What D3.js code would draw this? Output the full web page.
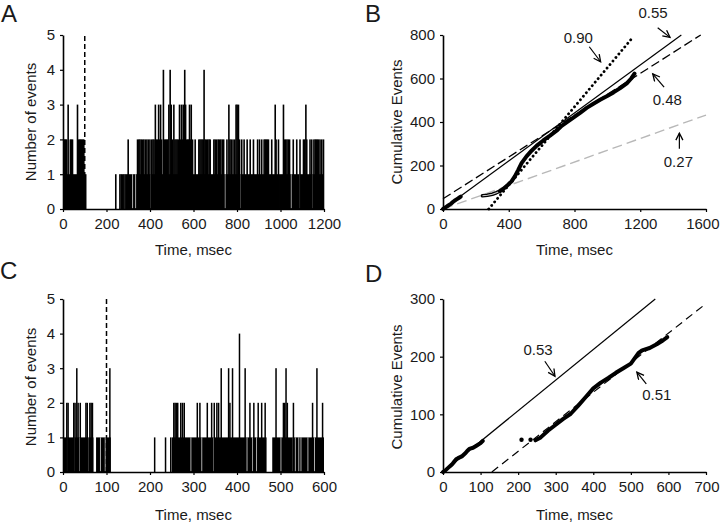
<!DOCTYPE html>
<html><head><meta charset="utf-8">
<script src="https://cdn.jsdelivr.net/npm/d3@7"></script>
<style>
body{margin:0;background:#fff}
svg{display:block}
text{font-family:"Liberation Sans",Arial,Helvetica,sans-serif;fill:#1a1a1a}
</style>
</head><body>
<svg id="chart" width="720" height="522"></svg>
<script>
// ---------------- DATA ----------------
const panelLetters = ["A","B","C","D"];
const xLabel = "Time, msec";
const yLabelHist = "Number of events";
const yLabelCum = "Cumulative Events";

const ticksAx = [0,200,400,600,800,1000,1200];
const ticksAy = [0,1,2,3,4,5];
const ticksBx = [0,400,800,1200,1600];
const ticksBy = [0,200,400,600,800];
const ticksCx = [0,100,200,300,400,500,600];
const ticksCy = [0,1,2,3,4,5];
const ticksDx = [0,100,200,300,400,500,600,700];
const ticksDy = [0,100,200,300];

const stimTime = 100; // dashed marker (msec)

// Panel A histogram (2 ms bins): ranges with 1 event, single bars, bins with >=2 events, empty bins
const fillA = [[0,108],[300,1200]];
const singlesA = [239,258,264,270,276,282,288,294];
const spikesA = [[1,2],[5,2],[9,2],[13,2],[20,3],[30,2],[35,2],[40,2],[63,3],[68,2],[73,2],[77,2],[82,2],[87,2],[92,2],
 [296,2],[339,2],[345,2],[350,2],[356,2],[362,2],[368,2],[375,2],[382,2],[389,2],[396,2],
 [404,2],[410,2],[415,2],[421,3],[426,2],[431,2],[436,3],[441,2],[445,3],[450,2],[458,4],[463,2],[468,2],[473,2],[478,2],
 [483,3],[489,4],[494,3],[499,2],[506,3],[511,2],[516,2],[521,2],[526,2],[532,3],[537,2],[541,3],[545,2],[549,3],[556,4],
 [560,3],[565,2],[570,2],[574,2],[578,3],[582,2],[586,3],[592,2],
 [604,2],[621,2],[626,2],[631,2],[636,2],[641,2],[645,4],[650,2],[656,2],[662,2],[668,2],[673,2],
 [690,2],[696,2],[703,2],[710,2],[716,2],[722,2],[729,2],[735,2],
 [750,2],[759,3],[764,2],[770,2],[778,2],[786,2],[792,3],[797,3],[803,3],[808,2],[818,2],[829,2],[843,2],[857,2],[872,2],
 [891,2],[900,2],[910,2],[921,2],[926,2],[931,2],[936,2],[941,2],[956,2],[972,3],[976,2],[987,2],[1010,3],[1015,2],[1020,2],
 [1026,2],[1032,2],[1038,2],[1055,2],[1071,2],[1086,2],[1102,2],[1107,2],[1113,3],[1117,2],[1132,2],[1140,2],[1150,2],
 [1156,2],[1161,2],[1166,2],[1171,2],[1178,2],[1186,2],[1194,2]];
const gapsA = [318,332,400,743,816,860,989,1047,1086,1143];

// Panel C histogram
const fillC = [[0,70],[76,110],[250,468],[481,600]];
const singlesC = [209,234,246];
const spikesC = [[7,2],[10,2],[23,2],[26,2],[30,3],[33,2],[38,2],[51,2],[54,2],[60,2],[63,2],[66,2],[106,3],
 [253,2],[256,2],[259,2],[262,2],[269,2],[273,2],[277,2],[307,2],[313,2],[330,2],[340,2],[346,2],[352,2],[356,2],
 [362,3],[379,3],[382,2],[388,3],[404,4],[417,3],[428,2],[437,2],[447,2],[455,2],[463,2],[488,3],[505,2],[508,2],
 [511,3],[514,2],[528,2],[572,2],[582,3],[595,2]];
const gapsC = [8,25,37,56,85,96,293,318,345,422,435,444,500,528,533,541,546,562,577];

// Panel B cumulative events (segments)
const cumB1 = [[0,0],[10,5],[20,10],[30,15],[40,20],[50,25],[60,32],[70,38],[80,43],[90,48],[100,53],[108,57]];
const cumB2 = [[240,61],[270,63],[300,68],[325,75],[346,82]];
const cumB3 = [[346,82],[366,92],[396,112],[417,127],[437,150],[458,180],[478,211],[508,242],[539,268],[569,290],
 [610,315],[651,337],[691,360],[722,382],[752,398],[793,420],[834,442],[874,465],[915,484],[956,502],[996,518],
 [1037,536],[1078,556],[1118,578],[1145,600],[1165,622]];
// Panel B fitted lines (endpoints)
const fitB055 = [[0,0],[1450,800]];
const fitB048 = [[0,47],[1568,800]];
const fitB090 = [[278,0],[1150,785]];
const fitB027 = [[0,0],[1600,432]];

// Panel D cumulative events
const cumD1 = [[0,0],[5,2],[10,5],[15,8],[20,11],[25,14],[30,18],[35,22],[40,24],[50,27],[60,33],[65,37],[70,40],[80,42],[90,46],[100,50],[106,54]];
const cumDdots = [[209,56],[233,56]];
const cumD2 = [[246,55],[260,60],[280,72],[300,82],[320,92],[340,101],[360,115],[380,130],[400,145],[420,155],[440,163],
 [460,172],[480,180],[500,188],[510,197],[520,206],[530,211],[550,215],[570,222],[585,228],[597,234]];
const fitD053 = [[0,0],[565,300]];
const fitD051 = [[130,0],[700,292]];

// Annotations: [label, textT, textN, arrowFromT, arrowFromN, arrowToT, arrowToN]
const notesB = [["0.55",1278,905,1306,833,1381,789],["0.90",823,789,890,746,959,677],
                ["0.48",1365,505,1345,560,1276,621],["0.27",1432,216,1438,277,1438,349]];
const notesD = [["0.53",253,213,271,192,298,166],["0.51",569,134,541,153,516,173]];

// ---------------- DRAW ----------------
const svg = d3.select("#chart");
const defs = svg.append("defs");
defs.append("marker").attr("id","arr").attr("markerUnits","userSpaceOnUse")
  .attr("markerWidth",10).attr("markerHeight",10).attr("refX",8).attr("refY",4).attr("orient","auto")
  .append("path").attr("d","M1,0.5 L8,4 L1,7.5").attr("fill","none").attr("stroke","#000").attr("stroke-width",1.3);

const xA = d3.scaleLinear().domain([0,1200]).range([63,324]);
const yA = d3.scaleLinear().domain([0,5]).range([209,35]);
const xB = d3.scaleLinear().domain([0,1600]).range([443,706]);
const yB = d3.scaleLinear().domain([0,800]).range([209,35]);
const xC = d3.scaleLinear().domain([0,600]).range([63,324]);
const yC = d3.scaleLinear().domain([0,5]).range([472,299]);
const xD = d3.scaleLinear().domain([0,700]).range([443,706]);
const yD = d3.scaleLinear().domain([0,300]).range([472,299]);

function axes(x, y, xt, yt, ylab, letter, letterPos, ylabCenter, xlabY){
  const g = svg.append("g");
  const ax = g.append("g").attr("transform",`translate(0,${y.range()[0]})`)
    .call(d3.axisBottom(x).tickValues(xt).tickSize(3).tickSizeOuter(0).tickPadding(6).tickFormat(d3.format("d")));
  const ay = g.append("g").attr("transform",`translate(${x.range()[0]},0)`)
    .call(d3.axisLeft(y).tickValues(yt).tickSize(3).tickSizeOuter(0).tickPadding(5).tickFormat(d3.format("d")));
  [ax,ay].forEach(a=>{
    a.select(".domain").attr("stroke","#000").attr("stroke-width",1.6);
    a.selectAll(".tick line").attr("stroke","#000").attr("stroke-width",1.2);
    a.selectAll("text").attr("font-size","15px").attr("fill","#1a1a1a").style("font-family",'"Liberation Sans",Arial,sans-serif');
  });
  // keep the last x tick label inside the window
  ax.selectAll(".tick text").filter(d=>x(d)+17>719).attr("text-anchor","end").attr("x",719 - x(xt[xt.length-1]));
  g.append("text").attr("x",(x.range()[0]+x.range()[1])/2).attr("y",xlabY).attr("text-anchor","middle")
    .attr("font-size","15px").text(xLabel);
  g.append("text").attr("transform",`translate(${ylabCenter[0]},${ylabCenter[1]}) rotate(-90)`)
    .attr("text-anchor","middle").attr("dy","0.36em").attr("font-size","15px").text(ylab);
  g.append("text").attr("x",letterPos[0]).attr("y",letterPos[1]).attr("font-size","24px").text(letter);
}

function hist(x, y, fills, singles, spikes, gaps, bw){
  const g = svg.append("g");
  g.selectAll(".f").data(fills).join("rect").attr("x",d=>x(d[0])).attr("width",d=>x(d[1])-x(d[0]))
    .attr("y",y(1)).attr("height",y(0)-y(1)).attr("fill","#000");
  g.selectAll(".g").data(gaps).join("rect").attr("x",d=>x(d)).attr("width",0.9)
    .attr("y",y(1)).attr("height",y(0)-y(1)-0.8).attr("fill","#fff").attr("opacity",0.75);
  g.selectAll(".s").data(spikes).join("rect").attr("x",d=>x(d[0])).attr("width",bw)
    .attr("y",d=>y(d[1])).attr("height",d=>y(0)-y(d[1])).attr("fill","#000");
  g.selectAll(".o").data(singles).join("rect").attr("x",d=>x(d)).attr("width",bw)
    .attr("y",y(1)).attr("height",y(0)-y(1)).attr("fill","#000");
  g.append("line").attr("x1",x(stimTime)).attr("x2",x(stimTime)).attr("y1",y(0)).attr("y2",y(5))
    .attr("stroke","#000").attr("stroke-width",1.5).attr("stroke-dasharray","5,3");
}

function fitLine(x, y, pts, color, width, dash){
  svg.append("path").datum(pts).attr("d",d3.line().x(d=>x(d[0])).y(d=>y(d[1])))
    .attr("fill","none").attr("stroke",color).attr("stroke-width",width)
    .attr("stroke-dasharray",dash||null).attr("stroke-linecap",dash==="0.1,4.5"?"round":"butt");
}
function cumLine(x, y, pts, hollow){
  const line = d3.line().x(d=>x(d[0])).y(d=>y(d[1]));
  svg.append("path").datum(pts).attr("d",line).attr("fill","none").attr("stroke","#000")
    .attr("stroke-width",hollow?3.6:4).attr("stroke-linecap","round").attr("stroke-linejoin","round");
  if(hollow){
    svg.append("path").datum(pts).attr("d",line).attr("fill","none").attr("stroke","#ccc").attr("stroke-width",1.1);
  }
}
function notes(x, y, list){
  list.forEach(n=>{
    svg.append("text").attr("x",x(n[1])).attr("y",y(n[2])).attr("dy","0.36em").attr("text-anchor","middle")
      .attr("font-size","15px").text(n[0]);
    svg.append("line").attr("x1",x(n[3])).attr("y1",y(n[4])).attr("x2",x(n[5])).attr("y2",y(n[6]))
      .attr("stroke","#000").attr("stroke-width",1.2).attr("marker-end","url(#arr)");
  });
}

// Panel A
hist(xA, yA, fillA, singlesA, spikesA, gapsA, 1.6);
axes(xA, yA, ticksAx, ticksAy, yLabelHist, panelLetters[0], [1,22], [31,122], 255);

// Panel B
fitLine(xB, yB, fitB027, "#b8b8b8", 1.4, "10,5");
fitLine(xB, yB, fitB055, "#000", 1.2);
fitLine(xB, yB, fitB048, "#000", 1.3, "9,4");
fitLine(xB, yB, fitB090, "#000", 2.8, "0.1,4.5");
cumLine(xB, yB, cumB1);
cumLine(xB, yB, cumB2, true);
cumLine(xB, yB, cumB3);
axes(xB, yB, ticksBx, ticksBy, yLabelCum, panelLetters[1], [365,22], [397,122], 255);
notes(xB, yB, notesB);

// Panel C
hist(xC, yC, fillC, singlesC, spikesC, gapsC, 1.5);
axes(xC, yC, ticksCx, ticksCy, yLabelHist, panelLetters[2], [0,279], [31,387], 520);

// Panel D
fitLine(xD, yD, fitD053, "#000", 1.2);
fitLine(xD, yD, fitD051, "#000", 1.2, "8,5");
cumLine(xD, yD, cumD1);
svg.selectAll(".dd").data(cumDdots).join("circle").attr("cx",d=>xD(d[0])).attr("cy",d=>yD(d[1])).attr("r",2.2).attr("fill","#000");
cumLine(xD, yD, cumD2);
axes(xD, yD, ticksDx, ticksDy, yLabelCum, panelLetters[3], [365,282], [397,387], 520);
notes(xD, yD, notesD);
</script>
</body></html>
